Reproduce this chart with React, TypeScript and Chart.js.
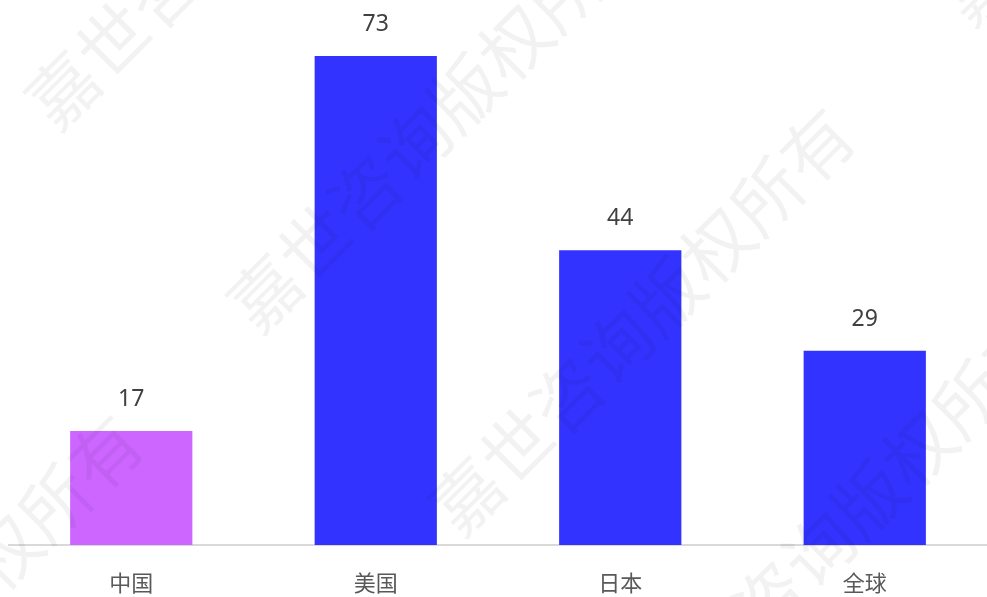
import React, { useEffect, useRef } from "react";
import { Chart, registerables } from "chart.js";

Chart.register(...registerables);

const categories = ["中国", "美国", "日本", "全球"];
const values = [17, 73, 44, 29];
const barColors = ["#CC66FF", "#3333FF", "#3333FF", "#3333FF"];
const watermarkText = "嘉世咨询版权所有";

const FONT = "'Noto Sans', 'Noto Sans CJK SC', sans-serif";

const valueLabelPlugin = {
  id: "valueLabels",
  afterDatasetsDraw(chart: any) {
    const ctx = chart.ctx;
    const meta = chart.getDatasetMeta(0);
    ctx.save();
    ctx.font = `23px ${FONT}`;
    ctx.fillStyle = "#404040";
    ctx.textAlign = "center";
    ctx.textBaseline = "alphabetic";
    meta.data.forEach((bar: any, i: number) => {
      ctx.fillText(String(values[i]), bar.x, bar.y - 25);
    });
    ctx.restore();
  },
};

const watermarkPlugin = {
  id: "watermark",
  afterDraw(chart: any) {
    const ctx = chart.ctx;
    const w = chart.width;
    const h = chart.height;
    ctx.save();
    ctx.font = `70px 'Noto Sans CJK SC', sans-serif`;
    ctx.fillStyle = "rgba(0,0,0,0.05)";
    ctx.textAlign = "center";
    ctx.textBaseline = "middle";
    const chars = Array.from(watermarkText);
    for (let k = -3; k <= 6; k++) {
      for (let m = -3; m <= 3; m++) {
        const ax = 63 + k * 202 + m * 510;
        const ay = 90 + k * 203 - m * 510;
        chars.forEach((c, i) => {
          const cx = ax + i * 50;
          const cy = ay - i * 50;
          if (cx < -70 || cx > w + 70 || cy < -70 || cy > h + 70) return;
          ctx.save();
          ctx.translate(cx, cy);
          ctx.rotate(-Math.PI / 4);
          ctx.fillText(c, 0, 0);
          ctx.restore();
        });
      }
    }
    ctx.restore();
  },
};

export default function App() {
  const canvasRef = useRef<HTMLCanvasElement | null>(null);

  useEffect(() => {
    if (!canvasRef.current) return;
    const chart = new Chart(canvasRef.current, {
      type: "bar",
      data: {
        labels: categories,
        datasets: [
          {
            data: values,
            backgroundColor: barColors,
            borderWidth: 0,
            barPercentage: 0.5,
            categoryPercentage: 1,
          },
        ],
      },
      options: {
        responsive: false,
        animation: false,
        devicePixelRatio: 1,
        layout: { padding: { left: 9, right: 0, top: 9, bottom: 0 } },
        plugins: {
          legend: { display: false },
          tooltip: { enabled: false },
        },
        scales: {
          x: {
            grid: { display: false, drawTicks: false },
            border: { display: true, color: "#d9d9d9", width: 2 },
            ticks: {
              color: "#595959",
              font: { size: 22, family: FONT },
              padding: 27,
              maxRotation: 0,
            },
            afterFit(scale: any) {
              scale.height = 52;
            },
          },
          y: {
            display: false,
            min: 0,
            max: 80,
          },
        },
      },
      plugins: [valueLabelPlugin, watermarkPlugin],
    });
    return () => chart.destroy();
  }, []);

  return (
    <div style={{ position: "absolute", left: 0, top: 0, width: 987, height: 597, background: "#fff" }}>
      <canvas ref={canvasRef} width={987} height={597} style={{ display: "block" }} />
    </div>
  );
}
